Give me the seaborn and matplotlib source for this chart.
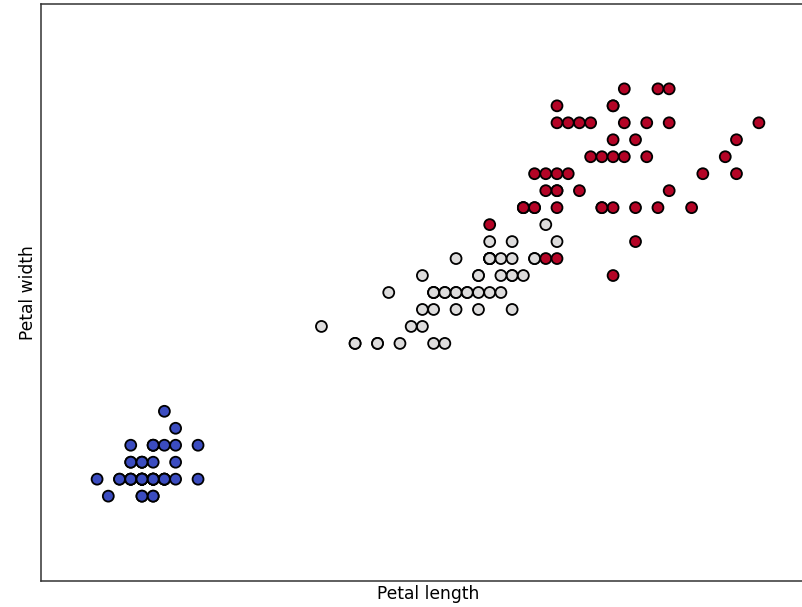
import numpy as np
import pandas as pd
import seaborn as sns
import matplotlib
matplotlib.use("Agg")
import matplotlib.pyplot as plt

# iris petal measurements (length, width) per species
setosa_length = [1.4, 1.4, 1.3, 1.5, 1.4, 1.7, 1.4, 1.5, 1.4, 1.5, 1.5, 1.6, 1.4, 1.1, 1.2,
                 1.5, 1.3, 1.4, 1.7, 1.5, 1.7, 1.5, 1.0, 1.7, 1.9, 1.6, 1.6, 1.5, 1.4, 1.6,
                 1.6, 1.5, 1.5, 1.4, 1.5, 1.2, 1.3, 1.4, 1.3, 1.5, 1.3, 1.3, 1.3, 1.6, 1.9,
                 1.4, 1.6, 1.4, 1.5, 1.4]
setosa_width = [0.2, 0.2, 0.2, 0.2, 0.2, 0.4, 0.3, 0.2, 0.2, 0.1, 0.2, 0.2, 0.1, 0.1, 0.2,
                0.4, 0.4, 0.3, 0.3, 0.3, 0.2, 0.4, 0.2, 0.5, 0.2, 0.2, 0.4, 0.2, 0.2, 0.2,
                0.2, 0.4, 0.1, 0.2, 0.2, 0.2, 0.2, 0.1, 0.2, 0.2, 0.3, 0.3, 0.2, 0.6, 0.4,
                0.3, 0.2, 0.2, 0.2, 0.2]
versicolor_length = [4.7, 4.5, 4.9, 4.0, 4.6, 4.5, 4.7, 3.3, 4.6, 3.9, 3.5, 4.2, 4.0, 4.7, 3.6,
                     4.4, 4.5, 4.1, 4.5, 3.9, 4.8, 4.0, 4.9, 4.7, 4.3, 4.4, 4.8, 5.0, 4.5, 3.5,
                     3.8, 3.7, 3.9, 5.1, 4.5, 4.5, 4.7, 4.4, 4.1, 4.0, 4.4, 4.6, 4.0, 3.3, 4.2,
                     4.2, 4.2, 4.3, 3.0, 4.1]
versicolor_width = [1.4, 1.5, 1.5, 1.3, 1.5, 1.3, 1.6, 1.0, 1.3, 1.4, 1.0, 1.5, 1.0, 1.4, 1.3,
                    1.4, 1.5, 1.0, 1.5, 1.1, 1.8, 1.3, 1.5, 1.2, 1.3, 1.4, 1.4, 1.7, 1.5, 1.0,
                    1.1, 1.0, 1.2, 1.6, 1.5, 1.6, 1.5, 1.3, 1.3, 1.3, 1.2, 1.4, 1.2, 1.0, 1.3,
                    1.2, 1.3, 1.3, 1.1, 1.3]
virginica_length = [6.0, 5.1, 5.9, 5.6, 5.8, 6.6, 4.5, 6.3, 5.8, 6.1, 5.1, 5.3, 5.5, 5.0, 5.1,
                    5.3, 5.5, 6.7, 6.9, 5.0, 5.7, 4.9, 6.7, 4.9, 5.7, 6.0, 4.8, 4.9, 5.6, 5.8,
                    6.1, 6.4, 5.6, 5.1, 5.6, 6.1, 5.6, 5.5, 4.8, 5.4, 5.6, 5.1, 5.1, 5.9, 5.7,
                    5.2, 5.0, 5.2, 5.4, 5.1]
virginica_width = [2.5, 1.9, 2.1, 1.8, 2.2, 2.1, 1.7, 1.8, 1.8, 2.5, 2.0, 1.9, 2.1, 2.0, 2.4,
                   2.3, 1.8, 2.2, 2.3, 1.5, 2.3, 2.0, 2.0, 1.8, 2.1, 1.8, 1.8, 1.8, 2.1, 1.6,
                   1.9, 2.0, 2.2, 1.5, 1.4, 2.3, 2.4, 1.8, 1.8, 2.1, 2.4, 2.3, 1.9, 2.3, 2.5,
                   2.3, 1.9, 2.0, 2.3, 1.8]

df = pd.DataFrame({
    "length": setosa_length + versicolor_length + virginica_length,
    "width": setosa_width + versicolor_width + virginica_width,
    "target": [0] * len(setosa_length) + [1] * len(versicolor_length) + [2] * len(virginica_length),
})

cmap = plt.get_cmap("coolwarm")
palette = {0: cmap(0.0), 1: cmap(0.5), 2: cmap(1.0)}

fig = plt.figure(figsize=(8.02, 6.07), dpi=100)
ax = fig.add_axes([41 / 802, 26 / 607, 774 / 802, 577 / 607])

sns.scatterplot(data=df, x="length", y="width", hue="target", palette=palette,
                s=62, edgecolor="black", linewidth=1.3, legend=False, ax=ax, zorder=3)

ax.set_xlim(df["length"].min() - 0.5, df["length"].max() + 0.5)
ax.set_ylim(df["width"].min() - 0.5, df["width"].max() + 0.5)
ax.set_xticks(())
ax.set_yticks(())
for sp in ax.spines.values():
    sp.set_color("#333333")
    sp.set_linewidth(1.1)
ax.set_xlabel("Petal length", fontsize=12.3, labelpad=3)
ax.set_ylabel("Petal width", fontsize=12.3, labelpad=3)

fig.savefig("out.png", dpi=100)
